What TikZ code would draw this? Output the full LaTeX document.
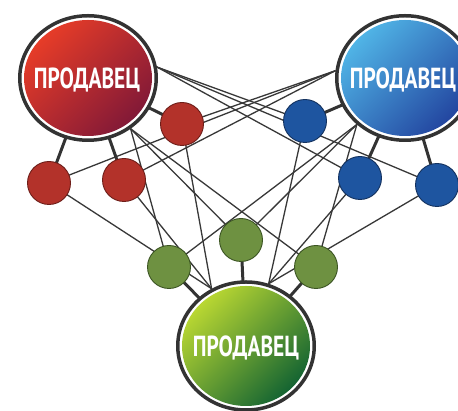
\documentclass[tikz,border=0pt]{standalone}
\usepackage{fontspec}
\usepackage{graphicx}
\newfontfamily\lblfont{PT Sans}
\usetikzlibrary{shapes.geometric,backgrounds}
\definecolor{ringc}{HTML}{333333}
\definecolor{wirec}{HTML}{383838}
\definecolor{redA}{HTML}{E63C28}\definecolor{redB}{HTML}{821937}
\definecolor{bluA}{HTML}{50B4E6}\definecolor{bluB}{HTML}{2346A0}
\definecolor{grnA}{HTML}{B9D732}\definecolor{grnB}{HTML}{146432}
\definecolor{redS}{HTML}{B3322A}\definecolor{redO}{HTML}{6E1E19}
\definecolor{bluS}{HTML}{1E55A0}\definecolor{bluO}{HTML}{14325F}
\definecolor{grnS}{HTML}{6E9141}\definecolor{grnO}{HTML}{3C5523}
\tikzset{
  bigring/.style={ellipse, draw=ringc, line width=3.5pt, fill=white, minimum width=136.5pt, minimum height=124.5pt, inner sep=0pt},
  smallnode/.style={circle, line width=0.9pt, minimum size=43pt, inner sep=0pt},
  wire/.style={draw=wirec, line width=1.3pt},
  stub/.style={draw=ringc, line width=3pt},
  lbl/.style={text=white, font=\lblfont\bfseries\fontsize{29}{29}\selectfont, inner sep=0pt}
}
\begin{document}
\begin{tikzpicture}[x=1pt,y=1pt]
\clip (0,0) rectangle (458,411);
% big circles
\node[bigring] (R) at (88,333) {};
\shade[top color=redA, bottom color=redB, shading angle=45] (R.center) ellipse [x radius=64, y radius=58];
\node[lbl] (RT) at (87,331) {\scalebox{0.74}[1]{ПРОДАВЕЦ}};
\node[bigring] (B) at (405,333) {};
\shade[top color=bluA, bottom color=bluB, shading angle=45] (B.center) ellipse [x radius=64, y radius=58];
\node[lbl] (BT) at (403,331) {\scalebox{0.74}[1]{ПРОДАВЕЦ}};
\node[bigring, minimum height=128pt] (G) at (246,65) {};
\shade[top color=grnA, bottom color=grnB, shading angle=45] (G.center) ellipse [x radius=64, y radius=60];
\node[lbl] (GT) at (246,63) {\scalebox{0.74}[1]{ПРОДАВЕЦ}};
% small circles
\node[smallnode, fill=redS, draw=redO] (r1) at (49,228) {};
\node[smallnode, fill=redS, draw=redO] (r2) at (124,231) {};
\node[smallnode, fill=redS, draw=redO] (r3) at (182,287) {};
\node[smallnode, fill=bluS, draw=bluO] (b1) at (305,290) {};
\node[smallnode, fill=bluS, draw=bluO] (b2) at (360,233) {};
\node[smallnode, fill=bluS, draw=bluO] (b3) at (437,226) {};
\node[smallnode, fill=grnS, draw=grnO] (g1) at (169,144) {};
\node[smallnode, fill=grnS, draw=grnO] (g2) at (241,171) {};
\node[smallnode, fill=grnS, draw=grnO] (g3) at (316,144) {};
\begin{pgfonlayer}{background}
\fill[white] (0,0) rectangle (458,411);
% wires
\foreach \s in {b1,b2,b3} \draw[wire] (R.9) -- (\s.center);
\foreach \s in {g1,g2,g3} \draw[wire] (R.-50) -- (\s.center);
\foreach \s in {r1,r2,r3} \draw[wire] (B.174) -- (\s.center);
\foreach \s in {g1,g2,g3} \draw[wire] (B.-136) -- (\s.center);
\foreach \s in {r1,r2,r3} \draw[wire] (G.121) -- (\s.center);
\foreach \s in {b1,b2,b3} \draw[wire] (G.70) -- (\s.center);
% stubs
\foreach \s in {r1,r2,r3} \draw[stub] (R.center) -- (\s.center);
\foreach \s in {b1,b2,b3} \draw[stub] (B.center) -- (\s.center);
\foreach \s in {g1,g2,g3} \draw[stub] (G.center) -- (\s.center);
\end{pgfonlayer}
\end{tikzpicture}
\end{document}
